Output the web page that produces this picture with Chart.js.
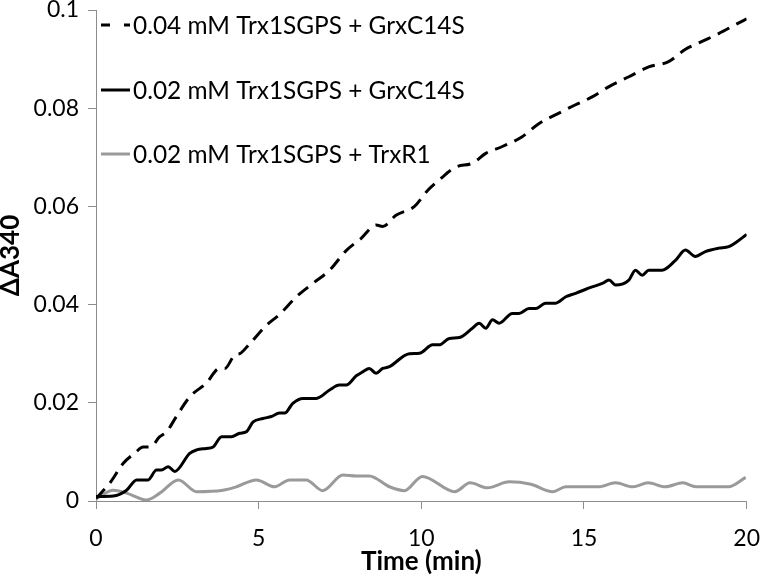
<!DOCTYPE html>
<html>
<head>
<meta charset="utf-8">
<script src="https://cdn.jsdelivr.net/npm/chart.js@4/dist/chart.umd.min.js"></script>
<style>
  html, body { margin: 0; padding: 0; background: #fff; }
  #wrap { width: 760px; height: 582px; }
</style>
</head>
<body>
<div id="wrap"><canvas id="c" width="760" height="582"></canvas></div>
<script>
const seriesNames = [
  "0.04 mM Trx1SGPS + GrxC14S",
  "0.02 mM Trx1SGPS + GrxC14S",
  "0.02 mM Trx1SGPS + TrxR1"
];
const xTickValues = [0, 5, 10, 15, 20];
const yTickValues = [0, 0.02, 0.04, 0.06, 0.08, 0.1];
const xTitle = "Time (min)";
const yTitle = "\u0394A340";

const dashT = [0, 0.43, 0.84, 1.2, 1.45, 1.66, 1.96, 2.17, 2.47, 2.88,
  3.39, 3.8, 3.96, 4.26, 4.42, 4.72, 5.24, 5.64, 6.16, 6.66,
  7.18, 7.69, 8.15, 8.61, 8.81, 9.22, 9.79, 10.2, 10.55, 11.06,
  11.57, 11.98, 12.49, 13.1, 13.62, 14.23, 14.74, 15.25, 15.77, 16.38,
  16.99, 17.6, 18.12, 18.63, 19.14, 19.65, 20];
const dashY = [0.0005, 0.0037, 0.0077, 0.0098, 0.011, 0.011, 0.0131, 0.0141, 0.0172, 0.0212,
  0.024, 0.027, 0.027, 0.0297, 0.030, 0.032, 0.0358, 0.038, 0.0416, 0.0443,
  0.047, 0.051, 0.0535, 0.0562, 0.0559, 0.0582, 0.060, 0.0633, 0.0654, 0.068,
  0.0688, 0.0708, 0.0722, 0.0742, 0.0769, 0.079, 0.0807, 0.0823, 0.0844, 0.0864,
  0.0884, 0.0895, 0.092, 0.0936, 0.0952, 0.097, 0.0982];

const solidT = [0, 0.53, 0.94, 1.25, 1.6, 1.86, 2.01, 2.22, 2.42, 2.88,
  3.09, 3.39, 3.6, 3.86, 4.16, 4.42, 4.62, 4.83, 5.13, 5.39,
  5.64, 5.8, 6.05, 6.36, 6.77, 7.18, 7.48, 7.69, 8.0, 8.2,
  8.4, 8.61, 8.81, 9.0, 9.63, 9.94, 10.35, 10.55, 10.86, 11.17,
  11.57, 11.78, 11.98, 12.19, 12.39, 12.8, 13.0, 13.31, 13.52, 13.82,
  14.13, 14.44, 14.74, 15.25, 15.56, 15.77, 15.97, 16.38, 16.58, 16.79,
  16.99, 17.4, 17.81, 18.12, 18.42, 18.73, 19.14, 19.45, 19.7, 20];
const solidY = [0.0009, 0.001, 0.0022, 0.0043, 0.0043, 0.0063, 0.0063, 0.007, 0.006, 0.0097,
  0.0104, 0.0107, 0.011, 0.0131, 0.0131, 0.0138, 0.0141, 0.0161, 0.0168, 0.0172,
  0.0179, 0.0179, 0.0199, 0.0209, 0.0209, 0.0226, 0.0236, 0.0236, 0.0255, 0.0263,
  0.027, 0.026, 0.027, 0.0273, 0.030, 0.0301, 0.0318, 0.0318, 0.0331, 0.0333,
  0.0352, 0.0362, 0.0352, 0.0369, 0.0362, 0.0382, 0.0382, 0.0392, 0.0392, 0.0403,
  0.0403, 0.0416, 0.0423, 0.0436, 0.0443, 0.045, 0.044, 0.045, 0.047, 0.046,
  0.047, 0.047, 0.049, 0.0511, 0.0498, 0.0508, 0.0515, 0.0518, 0.0528, 0.0543];

const grayT = [0, 0.53, 0.94, 1.55, 1.96, 2.53, 3.09, 3.9, 4.32, 4.93,
  5.49, 5.95, 6.46, 6.97, 7.59, 8.0, 8.4, 9.02, 9.48, 10.03,
  11.03, 11.5, 12.03, 12.7, 13.37, 14.04, 14.44, 15.44, 15.97, 16.5,
  16.97, 17.5, 18.04, 18.44, 19.44, 19.97];
const grayY = [0.0005, 0.0022, 0.0016, 0.0002, 0.0016, 0.0043, 0.0019, 0.0022, 0.0029, 0.0043,
  0.0029, 0.0043, 0.0043, 0.0021, 0.0053, 0.0051, 0.0051, 0.0029, 0.0021, 0.005,
  0.0019, 0.0037, 0.0027, 0.0039, 0.0034, 0.0019, 0.0029, 0.0029, 0.0037, 0.0029,
  0.0037, 0.0029, 0.0037, 0.0029, 0.0029, 0.0048];

const zip = (t, y) => t.map((v, i) => ({ x: v, y: y[i] }));

const AXIS = '#8c8c8c';
const FONT = 'Lato, "Open Sans", sans-serif';

const legendStyles = [
  { color: '#000', dash: [9, 14] },
  { color: '#000', dash: [] },
  { color: '#9a9a9a', dash: [] }
];

const insideLegend = {
  id: 'insideLegend',
  afterDraw(chart) {
    const ctx = chart.ctx;
    const x0 = 101, x1 = 130, tx = 133;
    const ys = [25, 90, 154];
    ctx.save();
    ctx.font = '24.4px ' + FONT;
    ctx.textBaseline = 'middle';
    ctx.textAlign = 'left';
    seriesNames.forEach((name, i) => {
      const st = legendStyles[i];
      ctx.strokeStyle = st.color;
      ctx.lineWidth = 3;
      ctx.setLineDash(st.dash);
      ctx.beginPath();
      ctx.moveTo(x0, ys[i]);
      ctx.lineTo(x1, ys[i]);
      ctx.stroke();
      ctx.setLineDash([]);
      ctx.fillStyle = '#000';
      ctx.fillText(name, tx, ys[i] + 1);
    });
    ctx.restore();
  }
};

new Chart(document.getElementById('c'), {
  type: 'line',
  data: {
    datasets: [
      { label: seriesNames[0], data: zip(dashT, dashY), borderColor: '#000', borderWidth: 3, borderDash: [13, 8], pointRadius: 0, tension: 0.3, cubicInterpolationMode: 'monotone', fill: false },
      { label: seriesNames[1], data: zip(solidT, solidY), borderColor: '#000', borderWidth: 3, pointRadius: 0, tension: 0.3, cubicInterpolationMode: 'monotone', fill: false },
      { label: seriesNames[2], data: zip(grayT, grayY), borderColor: '#9a9a9a', borderWidth: 3, pointRadius: 0, tension: 0.4, cubicInterpolationMode: 'monotone', fill: false }
    ]
  },
  options: {
    responsive: false,
    animation: false,
    layout: { padding: { left: 0, right: 0, top: 10, bottom: 0 } },
    plugins: { legend: { display: false }, tooltip: { enabled: false } },
    scales: {
      x: {
        type: 'linear',
        min: 0, max: 20,
        afterBuildTicks: s => { s.ticks = xTickValues.map(v => ({ value: v })); },
        afterFit: s => { s.height = 81; },
        grid: { drawOnChartArea: false, drawTicks: true, tickLength: 8, tickColor: AXIS, color: AXIS },
        border: { display: true, color: AXIS, width: 1 },
        ticks: { color: '#000', font: { family: FONT, size: 23, lineHeight: 2.6 }, padding: 0, maxRotation: 0 },
        title: { display: true, text: xTitle, color: '#000', font: { family: FONT, size: 26, weight: 'bold', lineHeight: 1.2 }, padding: { top: 0, bottom: 5 } }
      },
      y: {
        type: 'linear',
        min: 0, max: 0.1,
        afterBuildTicks: s => { s.ticks = yTickValues.map(v => ({ value: v })); },
        afterFit: s => { s.width = 96; },
        grid: { drawOnChartArea: false, drawTicks: true, tickLength: 8, tickColor: AXIS, color: AXIS },
        border: { display: true, color: AXIS, width: 1 },
        ticks: { color: '#000', font: { family: FONT, size: 23, lineHeight: 0.05 }, padding: 9,
                 callback: v => String(+Number(v).toFixed(2)) },
        title: { display: true, text: yTitle, color: '#000', font: { family: FONT, size: 26, weight: 'bold', lineHeight: 0.8 }, padding: { top: 0, bottom: 0 } }
      }
    }
  },
  plugins: [insideLegend]
});
</script>
</body>
</html>
